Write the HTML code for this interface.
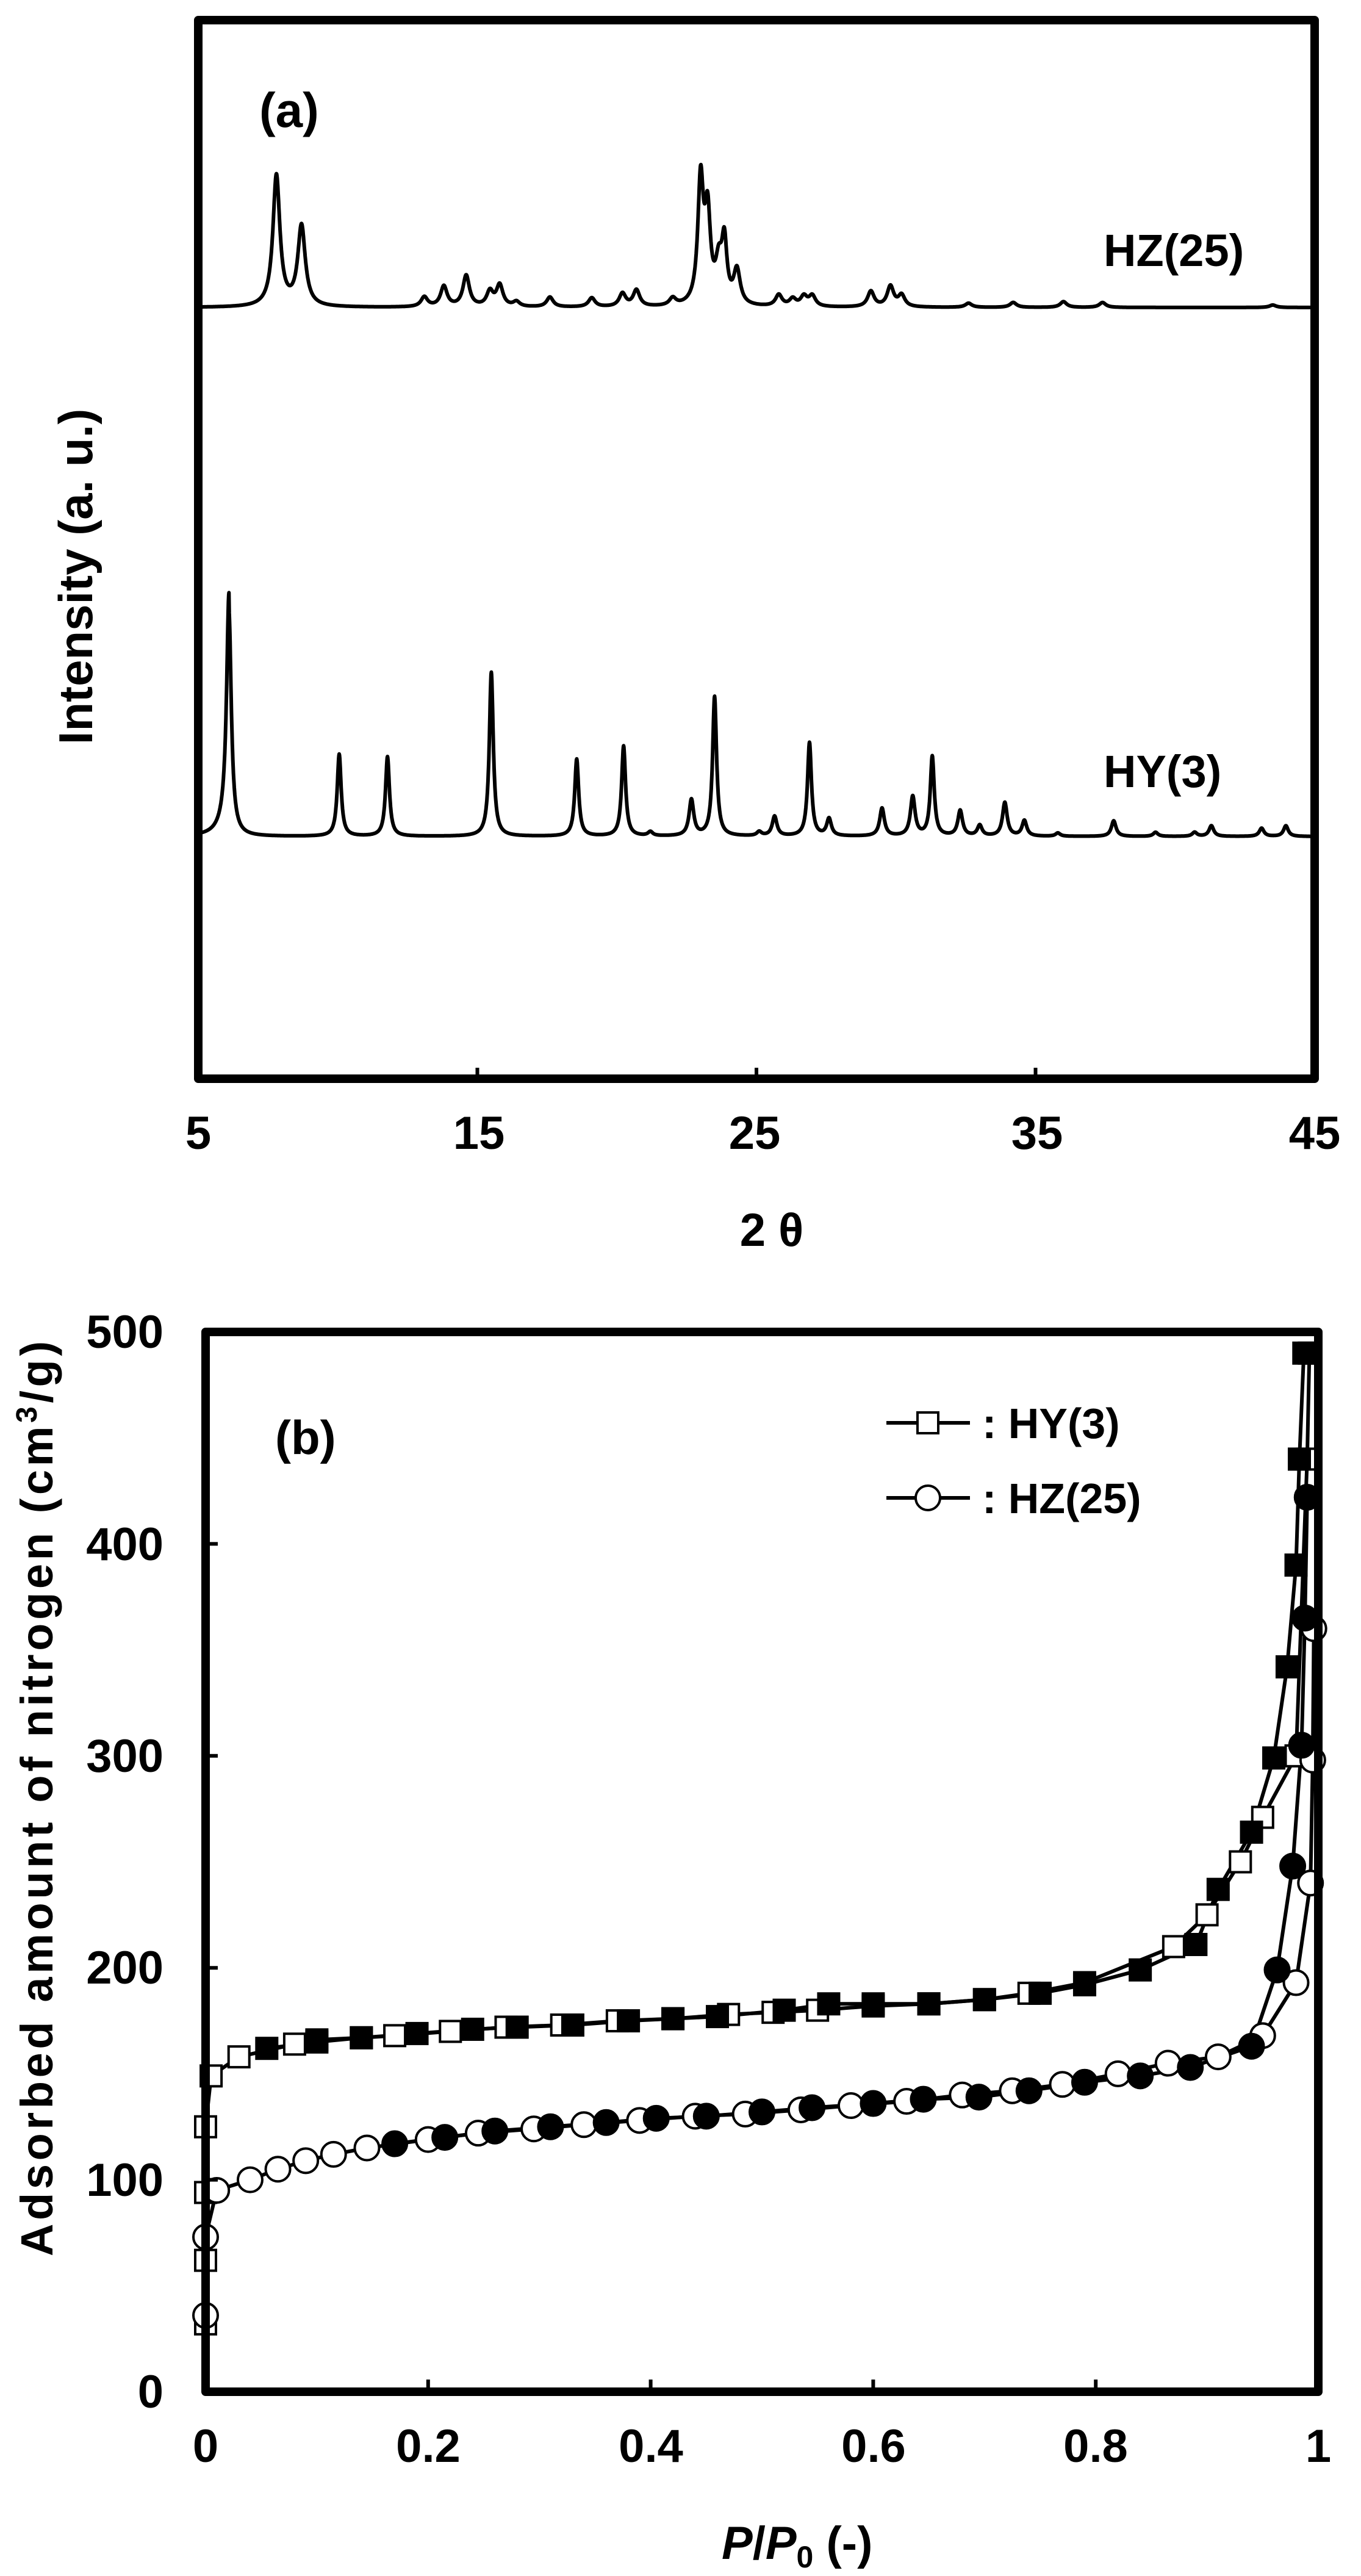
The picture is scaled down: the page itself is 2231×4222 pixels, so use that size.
<!DOCTYPE html>
<html><head><meta charset="utf-8"><style>
html,body{margin:0;padding:0;background:#fff;}
svg{display:block;}
text{font-family:"Liberation Sans",Arial,sans-serif;font-weight:bold;fill:#000;}
</style></head><body>
<svg id="s" width="2231" height="4222" viewBox="0 0 2231 4222" xmlns="http://www.w3.org/2000/svg">
<rect width="2231" height="4222" fill="#fff"/>
<!-- Panel a -->
<g id="pa"></g>
<rect x="325" y="33" width="1830" height="1735" fill="none" stroke="#000" stroke-width="14" stroke-linejoin="round"/>
<g stroke="#000" stroke-width="6">
<line x1="782.5" y1="1768" x2="782.5" y2="1750"/><line x1="1240" y1="1768" x2="1240" y2="1750"/><line x1="1697.5" y1="1768" x2="1697.5" y2="1750"/>
</g>
<g font-size="76" text-anchor="middle">
<text x="325" y="1883">5</text><text x="785" y="1883">15</text><text x="1237" y="1883">25</text><text x="1700" y="1883">35</text><text x="2155" y="1883">45</text>
</g>
<text x="1265" y="2042" font-size="76" text-anchor="middle">2 θ</text>
<text transform="translate(151,945) rotate(-90)" font-size="78" text-anchor="middle">Intensity (a. u.)</text>
<text x="425" y="208" font-size="80">(a)</text>
<text x="1809" y="436" font-size="74">HZ(25)</text>
<text x="1809" y="1290" font-size="74">HY(3)</text>

<!-- Panel b -->
<g id="pb"></g>
<rect x="337" y="2183" width="1824" height="1737" fill="none" stroke="#000" stroke-width="14" stroke-linejoin="round"/>
<g stroke="#000" stroke-width="6" id="tb"></g>
<g font-size="76" text-anchor="end">
<text x="268" y="3946">0</text><text x="268" y="3599">100</text><text x="268" y="3251">200</text><text x="268" y="2904">300</text><text x="268" y="2557">400</text><text x="268" y="2209">500</text>
</g>
<g font-size="76" text-anchor="middle">
<text x="337" y="4035">0</text><text x="702" y="4035">0.2</text><text x="1067" y="4035">0.4</text><text x="1432" y="4035">0.6</text><text x="1796" y="4035">0.8</text><text x="2161" y="4035">1</text>
</g>
<text x="1183" y="4194" font-size="76"><tspan font-style="italic">P</tspan><tspan>/</tspan><tspan font-style="italic">P</tspan><tspan font-size="50" dy="14">0</tspan><tspan dy="-14"> (-)</tspan></text>
<text transform="translate(86,2948) rotate(-90)" font-size="74" text-anchor="middle" textLength="1500" lengthAdjust="spacing">Adsorbed  amount of nitrogen  (cm<tspan font-size="48" dy="-26">3</tspan><tspan dy="26">/g)</tspan></text>
<text x="451" y="2383" font-size="78">(b)</text>
<g stroke="#000" stroke-width="6">
<line x1="1453" y1="2332" x2="1590" y2="2332"/><line x1="1453" y1="2455" x2="1590" y2="2455"/>
</g>
<rect x="1504" y="2315" width="34" height="34" fill="#fff" stroke="#000" stroke-width="4"/>
<circle cx="1521" cy="2455" r="20" fill="#fff" stroke="#000" stroke-width="4"/>
<text x="1610" y="2357" font-size="70">: HY(3)</text>
<text x="1610" y="2480" font-size="70">: HZ(25)</text>
</svg>
<script>
var NS="http://www.w3.org/2000/svg";
function el(p,n,a){var e=document.createElementNS(NS,n);for(var k in a)e.setAttribute(k,a[k]);p.appendChild(e);return e;}
var X=function(t){return 325+(t-5)*45.75;};
function xrd(base,peaks,w,extra){
 var d="";
 for(var t=5.05;t<=44.85;t+=0.01){
  var y=0;
  for(var i=0;i<peaks.length;i++){var p=peaks[i],ww=p[2]||w;var u=(t-p[0])/ww;y+=p[1]/(1+u*u);}
  if(extra)y+=extra(t);
  d+=(d?"L":"M")+X(t).toFixed(1)+","+(base-y*1.345).toFixed(1);
 }
 return d;
}
var hz=[[7.8,160,0.15],[8.7,98,0.16],[13.1,12],[13.8,25],[14.6,38],[15.45,18],[15.8,26],[16.4,6],[17.6,12],[19.1,11],[20.2,16],[20.7,20],[22.0,9],[23.0,150,0.12],[23.25,105,0.12],[23.65,45],[23.85,72,0.11],[24.3,42],[25.8,14],[26.3,9],[26.7,12],[27.0,13],[29.1,19],[29.8,25],[30.2,14],[32.6,5],[34.2,6],[36.0,7],[37.4,6],[43.5,3]];
var hy=[[6.1,275,0.1],[10.05,100,0.085],[11.78,97,0.085],[15.5,200,0.085],[18.56,94,0.085],[20.24,110,0.085],[21.2,5],[22.67,44],[23.5,170,0.085],[25.1,5],[25.65,24],[26.9,114,0.085],[27.6,21],[29.5,34],[30.6,48],[31.3,97,0.085],[32.3,31],[33.0,13],[33.9,41],[34.6,19],[35.8,4],[37.8,19],[39.3,5],[40.7,5],[41.3,13],[43.1,10],[43.97,13]];
var pa=document.getElementById("pa");
el(pa,"path",{d:xrd(504,hz,0.14),fill:"none",stroke:"#000","stroke-width":"6","stroke-linejoin":"round"});
el(pa,"path",{d:xrd(1371,hy,0.1,function(t){var u=(t-6.1)/0.3;return t<6.1?22/(1+u*u):0;}),fill:"none",stroke:"#000","stroke-width":"6","stroke-linejoin":"round"});

// panel b
var BX=function(p){return 337+p*1824;},BY=function(v){return 3920-v*3.474;};
var tb=document.getElementById("tb");
for(var v=100;v<500;v+=100)el(tb,"line",{x1:337,y1:BY(v),x2:357,y2:BY(v)});
for(var p=0.2;p<0.99;p+=0.2)el(tb,"line",{x1:BX(p),y1:3920,x2:BX(p),y2:3900});
var sqO=[[0,32],[0,62],[0,94],[0,125],[0.005,149],[0.03,158],[0.08,164],[0.1,166],[0.14,167],[0.17,168],[0.22,170],[0.27,172],[0.32,173],[0.37,175],[0.42,176],[0.47,178],[0.51,179],[0.55,180],[0.6,182],[0.65,183],[0.7,185],[0.74,188],[0.79,193],[0.87,210],[0.9,225],[0.93,250],[0.95,271],[0.98,300],[0.99,440],[0.992,490]];
var sqF=[[0.055,162],[0.1,165],[0.14,167],[0.19,169],[0.24,171],[0.28,172],[0.33,173],[0.38,175],[0.42,176],[0.46,177],[0.52,180],[0.56,183],[0.6,183],[0.65,183],[0.7,185],[0.75,188],[0.79,192],[0.84,199],[0.89,211],[0.91,237],[0.94,264],[0.96,299],[0.972,342],[0.98,390],[0.983,440],[0.987,490]];
var ciO=[[0,36],[0,73],[0.01,95],[0.04,100],[0.065,105],[0.09,109],[0.115,112],[0.145,115],[0.2,119],[0.245,122],[0.295,124],[0.34,126],[0.39,128],[0.44,130],[0.485,131],[0.535,133],[0.58,135],[0.63,137],[0.68,140],[0.725,142],[0.77,145],[0.82,150],[0.865,155],[0.91,158],[0.95,168],[0.98,193],[0.993,240],[0.995,298],[0.996,360]];
var ciF=[[0.17,117],[0.215,120],[0.26,123],[0.31,125],[0.36,127],[0.405,129],[0.45,130],[0.5,132],[0.545,134],[0.6,136],[0.645,138],[0.695,139],[0.74,142],[0.79,146],[0.84,149],[0.885,153],[0.94,163],[0.963,199],[0.977,248],[0.985,305],[0.988,365],[0.99,422]];
var pb=document.getElementById("pb");
function line(a){var s="";a.forEach(function(q,i){s+=(i?"L":"M")+BX(q[0]).toFixed(1)+","+BY(q[1]).toFixed(1);});el(pb,"path",{d:s,fill:"none",stroke:"#000","stroke-width":"6","stroke-linejoin":"round"});}
line(sqO);line(sqF);line(ciO);line(ciF);
function sq(a,f){a.forEach(function(q){el(pb,"rect",{x:BX(q[0])-17,y:BY(q[1])-17,width:34,height:34,fill:f,stroke:"#000","stroke-width":"4"});});}
function ci(a,f){a.forEach(function(q){el(pb,"circle",{cx:BX(q[0]),cy:BY(q[1]),r:20,fill:f,stroke:"#000","stroke-width":"4"});});}
sq(sqO,"#fff");ci(ciO,"#fff");sq(sqF,"#000");ci(ciF,"#000");
</script>
</body></html>
